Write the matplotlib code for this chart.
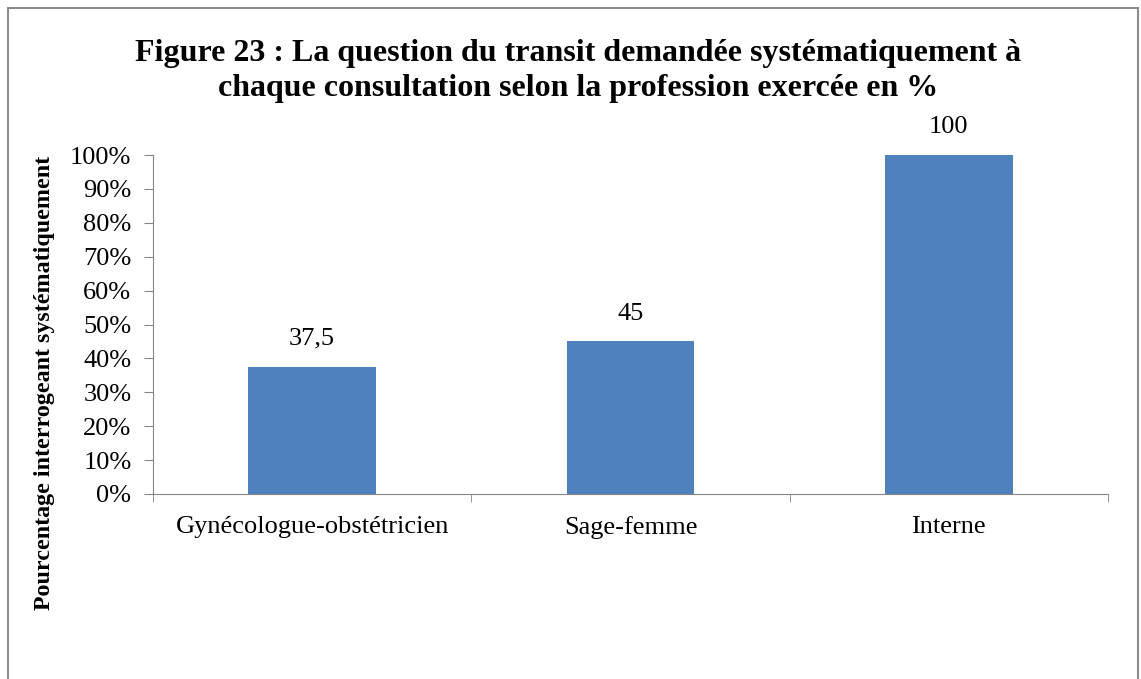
import matplotlib.pyplot as plt
from matplotlib.patches import Rectangle
from matplotlib.ticker import FuncFormatter

# data
categories = ["Gynécologue-obstétricien", "Sage-femme", "Interne"]
values = [37.5, 45, 100]
value_labels = ["37,5", "45", "100"]

plt.rcParams['font.family'] = ['Liberation Serif', 'DejaVu Serif']

fig = plt.figure(figsize=(11.41, 6.79), dpi=100)
# grey frame of the chart area (runs off the bottom of the picture)
fig.patches.append(Rectangle((8 / 1141, -0.05), 1130 / 1141, 1 - 8 / 679 + 0.05,
                             transform=fig.transFigure, fill=False,
                             edgecolor='#8c8c8c', linewidth=1.5))

ax = fig.add_axes([153 / 1141, 1 - 494 / 679, 955 / 1141, 339 / 679])
x = range(len(categories))
ax.bar(x, values, width=0.4, color='#4f81bd')

for xi, v, lab in zip(x, values, value_labels):
    ax.text(xi, v + 5, lab, ha='center', va='bottom', fontsize=19)

ax.set_xlim(-0.5, len(categories) - 0.5)
ax.set_ylim(0, 100)
ax.set_yticks(range(0, 101, 10))
ax.yaxis.set_major_formatter(FuncFormatter(lambda v, p: f"{int(v)}%"))
ax.set_xticks(list(x))
ax.set_xticklabels(categories)
ax.set_xticks([i - 0.5 for i in range(len(categories) + 1)], minor=True)
ax.tick_params(axis='x', which='major', length=0, labelsize=19, pad=16)
ax.tick_params(axis='x', which='minor', length=6, color='#868686', direction='out')
ax.tick_params(axis='y', length=6.5, color='#868686', labelsize=19, direction='out', pad=9)

for side in ['top', 'right']:
    ax.spines[side].set_visible(False)
for side in ['left', 'bottom']:
    ax.spines[side].set_color('#868686')

fig.text(45 / 1141, 1 - 383 / 679, "Pourcentage interrogeant systématiquement",
         rotation=90, ha='center', va='center', fontsize=17.3, fontweight='bold')
fig.text(578 / 1141, 1 - 71 / 679,
         "Figure 23 : La question du transit demandée systématiquement à\n"
         "chaque consultation selon la profession exercée en %",
         ha='center', va='center', fontsize=23, fontweight='bold', linespacing=1.3)

fig.savefig("out.png", dpi=100)
